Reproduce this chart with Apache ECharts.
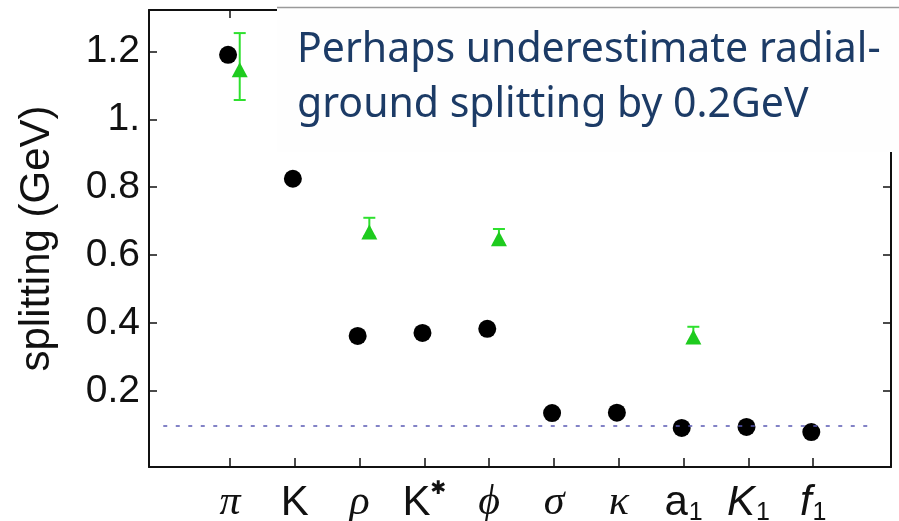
<!DOCTYPE html>
<html>
<head>
<meta charset="utf-8">
<script src="https://cdn.jsdelivr.net/npm/echarts@6/dist/echarts.min.js"></script>
<style>
  html, body { margin: 0; padding: 0; background: #fff; }
  #chart { width: 899px; height: 521px; }
</style>
</head>
<body>
<div id="chart"></div>
<script>
// 介子名称 (x 轴)
var mesons = ['π', 'K', 'ρ', 'K*', 'ϕ', 'σ', 'κ', 'a1', 'K1', 'f1'];
var mesonLabels = ['{g|π}', '{m|K}', '{g|ρ}', '{m|K}{sup|✱}', '{g|ϕ}', '{g|σ}', '{g|κ}', '{m|a}{sub|1}', '{it|K}{sub|1}', '{it|f}{sub|1}'];

// 格点计算结果 (黑点)
var latticeSplitting = [1.19, 0.825, 0.362, 0.371, 0.383, 0.135, 0.136, 0.091, 0.094, 0.079];

// 实验值 (绿色三角 + 误差棒)
var expIndex = [0, 2, 4, 7];
var expSplitting = [1.146, 0.668, 0.648, 0.359];
var expLow = [1.057, 0.655, 0.635, 0.345];
var expHigh = [1.254, 0.71, 0.677, 0.389];

// 虚线参考值
var refValue = 0.097;
var refFrom = -1.03;
var refTo = 9.85;

// 刻度
var yTicks = [0.2, 0.4, 0.6, 0.8, 1.0, 1.2];
var xTicks = [0, 1, 2, 3, 4, 5, 6, 7, 8, 9];

var dotShift = -0.03;
var triShift = 0.15;

var myChart = echarts.init(document.getElementById('chart'));

var tickStyle = { show: true, inside: true, length: 8, lineStyle: { color: '#111', width: 1.5 } };
var lineStyle = { show: true, onZero: false, lineStyle: { color: '#111', width: 2 } };

var option = {
  backgroundColor: '#fff',
  animation: false,
  grid: { left: 149, top: 10, right: 8, bottom: 54, containLabel: false, outerBoundsMode: 'none' },
  xAxis: [
    {
      type: 'value',
      position: 'bottom',
      min: -1.25,
      max: 10.2,
      splitLine: { show: false },
      axisLine: lineStyle,
      axisTick: Object.assign({ customValues: xTicks }, tickStyle, { length: 9 }),
      axisLabel: {
        customValues: xTicks,
        margin: 13,
        color: '#111',
        fontFamily: 'Liberation Sans',
        fontSize: 42,
        formatter: function (v) { return mesonLabels[Math.round(v)]; },
        rich: {
          m: { fontFamily: 'Liberation Sans', fontSize: 42, lineHeight: 46, color: '#111' },
          g: { fontFamily: 'Liberation Serif', fontStyle: 'italic', fontSize: 42, lineHeight: 46, color: '#111' },
          it: { fontFamily: 'Liberation Sans', fontStyle: 'italic', fontSize: 42, lineHeight: 46, color: '#111' },
          sub: { fontFamily: 'Liberation Sans', fontSize: 25, color: '#111', lineHeight: 25, verticalAlign: 'bottom', padding: [0, 0, 0, 1] },
          sup: { fontFamily: 'DejaVu Sans', fontSize: 19, color: '#111', lineHeight: 24, verticalAlign: 'top' }
        }
      }
    },
    {
      type: 'value',
      position: 'top',
      min: -1.25,
      max: 10.2,
      splitLine: { show: false },
      axisLine: lineStyle,
      axisTick: Object.assign({ customValues: xTicks }, tickStyle),
      axisLabel: { show: false }
    }
  ],
  yAxis: [
    {
      type: 'value',
      position: 'left',
      min: -0.024,
      max: 1.322,
      name: 'splitting (GeV)',
      nameLocation: 'middle',
      nameGap: 91,
      nameTextStyle: { fontFamily: 'Liberation Sans', fontSize: 42, color: '#111' },
      splitLine: { show: false },
      axisLine: lineStyle,
      axisTick: Object.assign({ customValues: yTicks }, tickStyle),
      axisLabel: {
        customValues: yTicks,
        margin: 9,
        color: '#111',
        fontFamily: 'Liberation Sans',
        fontSize: 39,
        formatter: function (v) { return Math.abs(v - 1) < 1e-6 ? '1.' : v.toFixed(1); }
      }
    },
    {
      type: 'value',
      position: 'right',
      min: -0.024,
      max: 1.322,
      splitLine: { show: false },
      axisLine: lineStyle,
      axisTick: Object.assign({ customValues: yTicks }, tickStyle),
      axisLabel: { show: false }
    }
  ],
  series: [
    { // 格点结果
      name: 'lattice',
      type: 'scatter',
      symbol: 'circle',
      symbolSize: 18,
      z: 3,
      itemStyle: { color: '#000', opacity: 1 },
      data: latticeSplitting.map(function (v, i) { return [i + dotShift, v]; }),
      markLine: {
        silent: true,
        symbol: ['none', 'none'],
        label: { show: false },
        lineStyle: { color: '#5a5ab4', width: 1.5, type: [4, 8.5], opacity: 1 },
        data: [[{ coord: [refFrom, refValue] }, { coord: [refTo, refValue] }]]
      }
    },
    { // 误差棒
      name: 'errorbar',
      type: 'custom',
      z: 4,
      encode: { x: 0, y: [1, 2] },
      renderItem: function (params, api) {
        var x = api.value(0);
        var lo = api.coord([x, api.value(1)]);
        var hi = api.coord([x, api.value(2)]);
        var w = 6;
        var st = { stroke: '#2ee02e', lineWidth: 2 };
        return {
          type: 'group',
          children: [
            { type: 'line', shape: { x1: lo[0], y1: lo[1], x2: hi[0], y2: hi[1] }, style: st },
            { type: 'line', shape: { x1: hi[0] - w, y1: hi[1], x2: hi[0] + w, y2: hi[1] }, style: st },
            { type: 'line', shape: { x1: lo[0] - w, y1: lo[1], x2: lo[0] + w, y2: lo[1] }, style: st }
          ]
        };
      },
      data: expIndex.map(function (idx, i) { return [idx + triShift, expLow[i], expHigh[i]]; })
    },
    { // 实验值
      name: 'experiment',
      type: 'scatter',
      symbol: 'triangle',
      symbolSize: [16, 15],
      z: 5,
      itemStyle: { color: '#1ecb1e', opacity: 1 },
      data: expIndex.map(function (idx, i) { return [idx + triShift, expSplitting[i]]; })
    }
  ],
  graphic: [
    {
      type: 'rect',
      z: 100,
      shape: { x: 277, y: 8, width: 622, height: 144 },
      style: { fill: '#fefefe' }
    },
    {
      type: 'line',
      z: 101,
      shape: { x1: 277, y1: 7.5, x2: 899, y2: 7.5 },
      style: { stroke: '#9a9a9a', lineWidth: 1.5 }
    },
    {
      type: 'text',
      z: 102,
      x: 297,
      y: 50,
      style: {
        text: 'Perhaps underestimate radial-',
        fill: '#1c3b66',
        font: '41px "Noto Sans"',
        verticalAlign: 'middle'
      }
    },
    {
      type: 'text',
      z: 102,
      x: 297,
      y: 105,
      style: {
        text: 'ground splitting by 0.2GeV',
        fill: '#1c3b66',
        font: '41px "Noto Sans"',
        verticalAlign: 'middle'
      }
    }
  ]
};

myChart.setOption(option);
</script>
</body>
</html>
